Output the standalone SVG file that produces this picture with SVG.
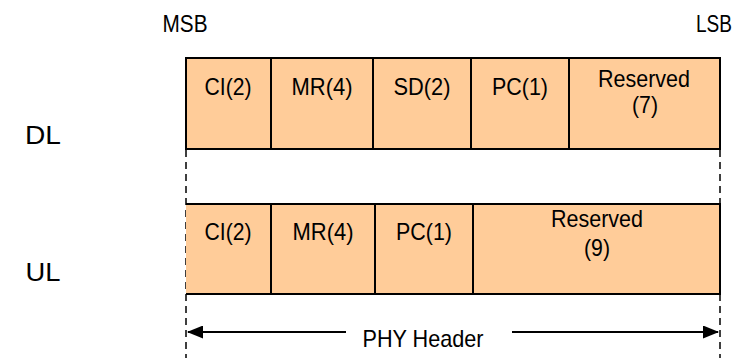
<svg xmlns="http://www.w3.org/2000/svg" width="741" height="358" viewBox="0 0 741 358">
<defs>
<style>
.t{font-family:"Liberation Sans",Arial,sans-serif;font-size:24px;fill:#000;text-anchor:middle}
.f{fill:#FFCC99;stroke:#000;stroke-width:2}
.d{stroke:#000;stroke-width:1.5;stroke-dasharray:7,5;fill:none}
.a{stroke:#000;stroke-width:2;fill:none}
</style>
<marker id="ah" markerWidth="16" markerHeight="13" refX="15" refY="6.5" orient="auto" markerUnits="userSpaceOnUse">
<path d="M0,0 L16,6.5 L0,13 Z" fill="#000"/>
</marker>
</defs>
<rect width="741" height="358" fill="#fff"/>
<text class="t" x="185" y="32" textLength="45" lengthAdjust="spacingAndGlyphs">MSB</text>
<text class="t" x="714" y="32" textLength="36" lengthAdjust="spacingAndGlyphs">LSB</text>
<text class="t" x="43" y="144" style="font-size:26px" textLength="36" lengthAdjust="spacingAndGlyphs">DL</text>
<text class="t" x="43" y="281" style="font-size:26px" textLength="35" lengthAdjust="spacingAndGlyphs">UL</text>
<g id="connectors">
<path class="d" d="M186,150 V358"/>
<path class="d" d="M720,150 V358"/>
<path class="a" d="M346,332 H188" marker-end="url(#ah)"/>
<path class="a" d="M512,332 H718" marker-end="url(#ah)"/>
</g>
<g id="dl">
<rect class="f" x="186" y="58" width="85" height="91"/>
<rect class="f" x="271" y="58" width="102" height="91"/>
<rect class="f" x="373" y="58" width="98" height="91"/>
<rect class="f" x="471" y="58" width="98" height="91"/>
<rect class="f" x="569" y="58" width="151" height="91"/>
<text class="t" x="228" y="95" textLength="47" lengthAdjust="spacingAndGlyphs">CI(2)</text>
<text class="t" x="322" y="95" textLength="61" lengthAdjust="spacingAndGlyphs">MR(4)</text>
<text class="t" x="422" y="95" textLength="57" lengthAdjust="spacingAndGlyphs">SD(2)</text>
<text class="t" x="520" y="95" textLength="56" lengthAdjust="spacingAndGlyphs">PC(1)</text>
<text class="t" x="644" y="87" textLength="92" lengthAdjust="spacingAndGlyphs">Reserved</text>
<text class="t" x="645" y="113" textLength="26" lengthAdjust="spacingAndGlyphs">(7)</text>
</g>
<g id="ul">
<rect x="186" y="204" width="534" height="90" fill="#FFCC99"/>
<path class="a" d="M186,204 H720 V294 H186"/>
<path class="a" d="M271,204 V294 M375,204 V294 M473,204 V294"/>
<text class="t" x="228" y="240" textLength="47" lengthAdjust="spacingAndGlyphs">CI(2)</text>
<text class="t" x="323" y="240" textLength="61" lengthAdjust="spacingAndGlyphs">MR(4)</text>
<text class="t" x="424" y="240" textLength="56" lengthAdjust="spacingAndGlyphs">PC(1)</text>
<text class="t" x="597" y="227" textLength="92" lengthAdjust="spacingAndGlyphs">Reserved</text>
<text class="t" x="597" y="256" textLength="26" lengthAdjust="spacingAndGlyphs">(9)</text>
</g>
<text class="t" x="423" y="347" textLength="121" lengthAdjust="spacingAndGlyphs">PHY Header</text>
</svg>
